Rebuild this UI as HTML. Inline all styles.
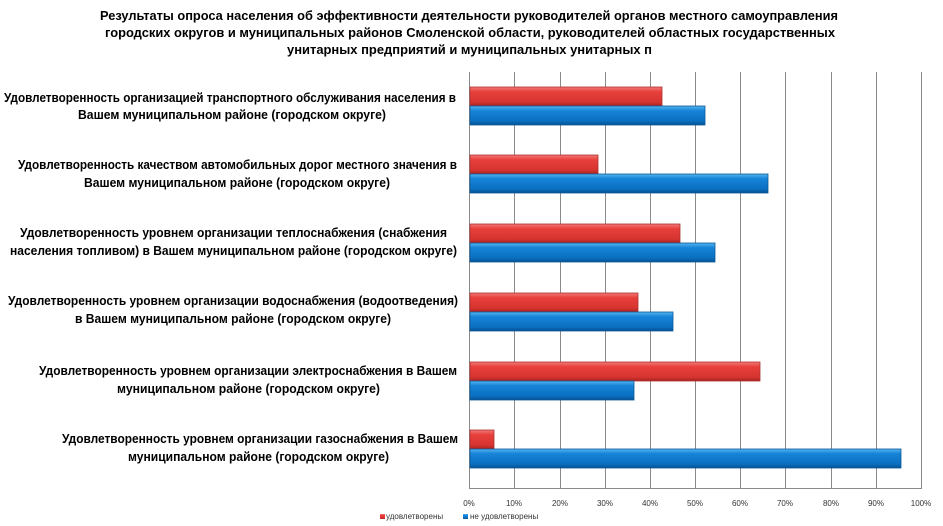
<!DOCTYPE html>
<html><head><meta charset="utf-8"><style>html,body{margin:0;padding:0;background:#fff}svg{display:block}</style></head>
<body>
<svg width="943" height="526" viewBox="0 0 943 526" xmlns="http://www.w3.org/2000/svg" font-family="Liberation Sans, sans-serif">
<defs>
<linearGradient id="r" x1="0" y1="0" x2="0" y2="1"><stop offset="0" stop-color="#f07a78"/><stop offset="0.25" stop-color="#e8403c"/><stop offset="0.8" stop-color="#d63430"/><stop offset="1" stop-color="#a8221f"/></linearGradient>
<linearGradient id="b" x1="0" y1="0" x2="0" y2="1"><stop offset="0" stop-color="#55b4f0"/><stop offset="0.25" stop-color="#1784d8"/><stop offset="0.8" stop-color="#0a6fc0"/><stop offset="1" stop-color="#064f8e"/></linearGradient>
</defs>
<g font-weight="bold" font-size="13" fill="#000">
<text x="100" y="20" textLength="738" lengthAdjust="spacingAndGlyphs">Результаты опроса населения об эффективности деятельности руководителей органов  местного самоуправления</text>
<text x="105" y="37" textLength="730" lengthAdjust="spacingAndGlyphs">городских округов  и муниципальных  районов  Смоленской области, руководителей областных государственных</text>
<text x="287" y="54" textLength="365" lengthAdjust="spacingAndGlyphs">унитарных предприятий и муниципальных  унитарных п</text>
</g>
<g font-weight="bold" font-size="13" fill="#000">
<text x="4" y="102" textLength="452" lengthAdjust="spacingAndGlyphs">Удовлетворенность организацией транспортного обслуживания населения в</text>
<text x="78" y="119" textLength="308" lengthAdjust="spacingAndGlyphs">Вашем муниципальном районе (городском округе)</text>
<text x="18" y="169" textLength="439" lengthAdjust="spacingAndGlyphs">Удовлетворенность качеством автомобильных дорог местного значения в</text>
<text x="84" y="187" textLength="306" lengthAdjust="spacingAndGlyphs">Вашем муниципальном районе (городском округе)</text>
<text x="20" y="237" textLength="427" lengthAdjust="spacingAndGlyphs">Удовлетворенность уровнем организации теплоснабжения (снабжения</text>
<text x="10" y="255" textLength="447" lengthAdjust="spacingAndGlyphs">населения топливом) в Вашем муниципальном районе (городском округе)</text>
<text x="8" y="305" textLength="450" lengthAdjust="spacingAndGlyphs">Удовлетворенность уровнем организации водоснабжения (водоотведения)</text>
<text x="75" y="323" textLength="316" lengthAdjust="spacingAndGlyphs">в Вашем муниципальном районе (городском округе)</text>
<text x="39" y="375" textLength="418" lengthAdjust="spacingAndGlyphs">Удовлетворенность уровнем организации электроснабжения в Вашем</text>
<text x="117" y="393" textLength="263" lengthAdjust="spacingAndGlyphs">муниципальном районе (городском округе)</text>
<text x="62" y="443" textLength="396" lengthAdjust="spacingAndGlyphs">Удовлетворенность уровнем организации газоснабжения в Вашем</text>
<text x="128" y="461" textLength="261" lengthAdjust="spacingAndGlyphs">муниципальном районе (городском округе)</text>
</g>
<g stroke="#8a8a8a" stroke-width="1">
<line x1="469.5" y1="72" x2="469.5" y2="488"/>
<line x1="514.5" y1="72" x2="514.5" y2="488"/><line x1="560.5" y1="72" x2="560.5" y2="488"/><line x1="605.5" y1="72" x2="605.5" y2="488"/><line x1="650.5" y1="72" x2="650.5" y2="488"/><line x1="695.5" y1="72" x2="695.5" y2="488"/><line x1="740.5" y1="72" x2="740.5" y2="488"/><line x1="785.5" y1="72" x2="785.5" y2="488"/><line x1="831.5" y1="72" x2="831.5" y2="488"/><line x1="876.5" y1="72" x2="876.5" y2="488"/><line x1="921.5" y1="72" x2="921.5" y2="488"/>
<line x1="469" y1="488.5" x2="922" y2="488.5"/>
</g>
<g stroke-width="0.8">
<rect x="470" y="87" width="192" height="19" fill="url(#r)" stroke="#b03030"/>
<rect x="470" y="106" width="235" height="19" fill="url(#b)" stroke="#0a5a9a"/>
<rect x="470" y="155" width="128" height="19" fill="url(#r)" stroke="#b03030"/>
<rect x="470" y="174" width="298" height="19" fill="url(#b)" stroke="#0a5a9a"/>
<rect x="470" y="224" width="210" height="19" fill="url(#r)" stroke="#b03030"/>
<rect x="470" y="243" width="245" height="19" fill="url(#b)" stroke="#0a5a9a"/>
<rect x="470" y="293" width="168" height="19" fill="url(#r)" stroke="#b03030"/>
<rect x="470" y="312" width="203" height="19" fill="url(#b)" stroke="#0a5a9a"/>
<rect x="470" y="362" width="290" height="19" fill="url(#r)" stroke="#b03030"/>
<rect x="470" y="381" width="164" height="19" fill="url(#b)" stroke="#0a5a9a"/>
<rect x="470" y="430" width="24" height="19" fill="url(#r)" stroke="#b03030"/>
<rect x="470" y="449" width="431" height="19" fill="url(#b)" stroke="#0a5a9a"/>
</g>
<g font-size="8" fill="#333" text-anchor="middle">
<text x="469" y="506">0%</text><text x="514" y="506">10%</text><text x="560" y="506">20%</text><text x="605" y="506">30%</text><text x="650" y="506">40%</text><text x="695" y="506">50%</text><text x="740" y="506">60%</text><text x="785" y="506">70%</text><text x="831" y="506">80%</text><text x="876" y="506">90%</text><text x="921" y="506">100%</text>
</g>
<rect x="380" y="514" width="5" height="5" fill="url(#r)"/>
<text x="386" y="519" font-size="8" fill="#333">удовлетворены</text>
<rect x="463" y="514" width="5" height="5" fill="url(#b)"/>
<text x="470" y="519" font-size="8" fill="#333">не удовлетворены</text>
</svg>
</body></html>
